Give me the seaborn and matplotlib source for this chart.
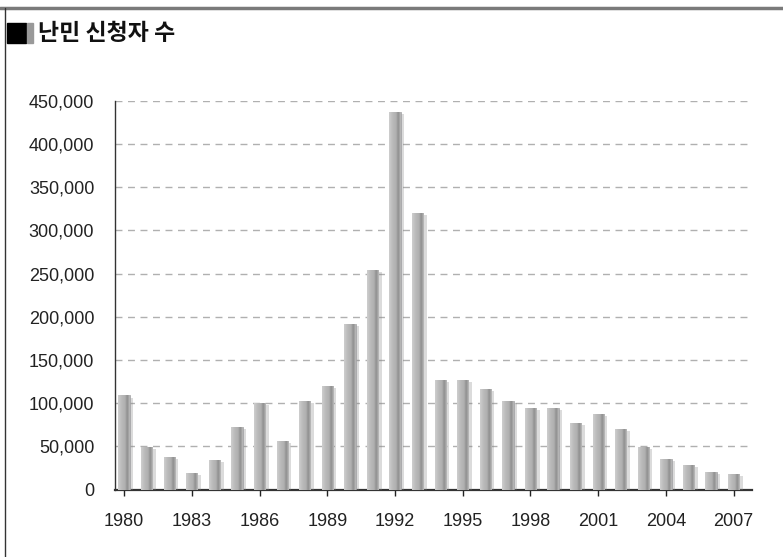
import numpy as np
import matplotlib.pyplot as plt
import matplotlib.patheffects as pe
from matplotlib.lines import Line2D
from matplotlib.patches import Rectangle
from matplotlib.ticker import FuncFormatter
import seaborn as sns

# data
years = [str(y) for y in range(1980, 2008)]
applicants = [109000, 49000, 38000, 19500, 34500, 73000, 100000, 56500, 102500, 120000,
              191500, 254000, 437000, 320000, 126500, 126500, 116000, 102500, 94000, 95000,
              77500, 88000, 70500, 49000, 36000, 29000, 20000, 18000]
tick_labels = ["1980", "1983", "1986", "1989", "1992", "1995", "1998", "2001", "2004", "2007"]
y_ticks = [0, 50000, 100000, 150000, 200000, 250000, 300000, 350000, 400000, 450000]
title = "난민 신청자 수"

sns.set_style("white")
plt.rcParams['font.family'] = ['Liberation Sans', 'Noto Sans CJK KR']

fig = plt.figure(figsize=(7.83, 5.57), dpi=100)
ax = fig.add_axes([0.147, 0.121, 0.813, 0.698])

sns.barplot(x=years, y=applicants, color="#b4b4b7", saturation=1, width=0.5, ax=ax,
            edgecolor="#a0a0a2", linewidth=0.5, zorder=3)

# soft 3d look: shade each bar with a horizontal gradient + shadow
grad = np.array([[0.80, 0.77, 0.74, 0.72, 0.71, 0.70, 0.66, 0.56, 0.60, 0.72]])
for bar in ax.patches:
    x0, y0 = bar.get_x(), bar.get_y()
    w, h = bar.get_width(), bar.get_height()
    bar.set_path_effects([pe.SimplePatchShadow(offset=(2.5, -1.5), shadow_rgbFace="#888888", alpha=0.3),
                          pe.Normal()])
    im = ax.imshow(grad, cmap="gray", vmin=0, vmax=1, extent=[x0, x0 + w, y0, y0 + h],
                   aspect="auto", zorder=4, interpolation="bicubic")
    im.set_clip_path(bar)

ax.set_xlim(-0.40, 27.8)
ax.set_ylim(0, 450000)

for v in y_ticks[1:]:
    ax.axhline(v, color="#b0b0b0", lw=1.0, ls=(0, (5, 4)), zorder=1)

ax.set_yticks(y_ticks)
ax.yaxis.set_major_formatter(FuncFormatter(lambda v, p: f"{int(v):,}"))
ax.set_xticks([years.index(t) for t in tick_labels])
ax.set_xticklabels(tick_labels)
ax.tick_params(axis="y", length=0, pad=15, labelsize=13, colors="#222222")
ax.tick_params(axis="x", length=4, width=1, direction="out", pad=13, labelsize=13,
               colors="#222222", bottom=True)
ax.set_xlabel("")
ax.set_ylabel("")

for s in ["top", "right"]:
    ax.spines[s].set_visible(False)
ax.spines["left"].set_color("#333333")
ax.spines["left"].set_linewidth(1.0)
ax.spines["bottom"].set_color("#333333")
ax.spines["bottom"].set_linewidth(1.6)

# frame and title marker
fig.add_artist(Line2D([0, 1], [0.985, 0.985], color="#7a7a7a", lw=2.5, transform=fig.transFigure))
fig.add_artist(Line2D([0.007, 0.007], [0, 0.985], color="#333333", lw=1.0, transform=fig.transFigure))
fig.patches.append(Rectangle((7 / 783, 1 - 43 / 557), 19 / 783, 20 / 557, color="black",
                             transform=fig.transFigure, figure=fig))
fig.patches.append(Rectangle((27 / 783, 1 - 43 / 557), 6 / 783, 20 / 557, color="#999999",
                             transform=fig.transFigure, figure=fig))
fig.text(38 / 783, 1 - 33 / 557, title, family="Noto Sans CJK KR", fontsize=16.5,
         fontweight="bold", va="center", ha="left", color="#111111")

fig.savefig("out.png", dpi=100)
